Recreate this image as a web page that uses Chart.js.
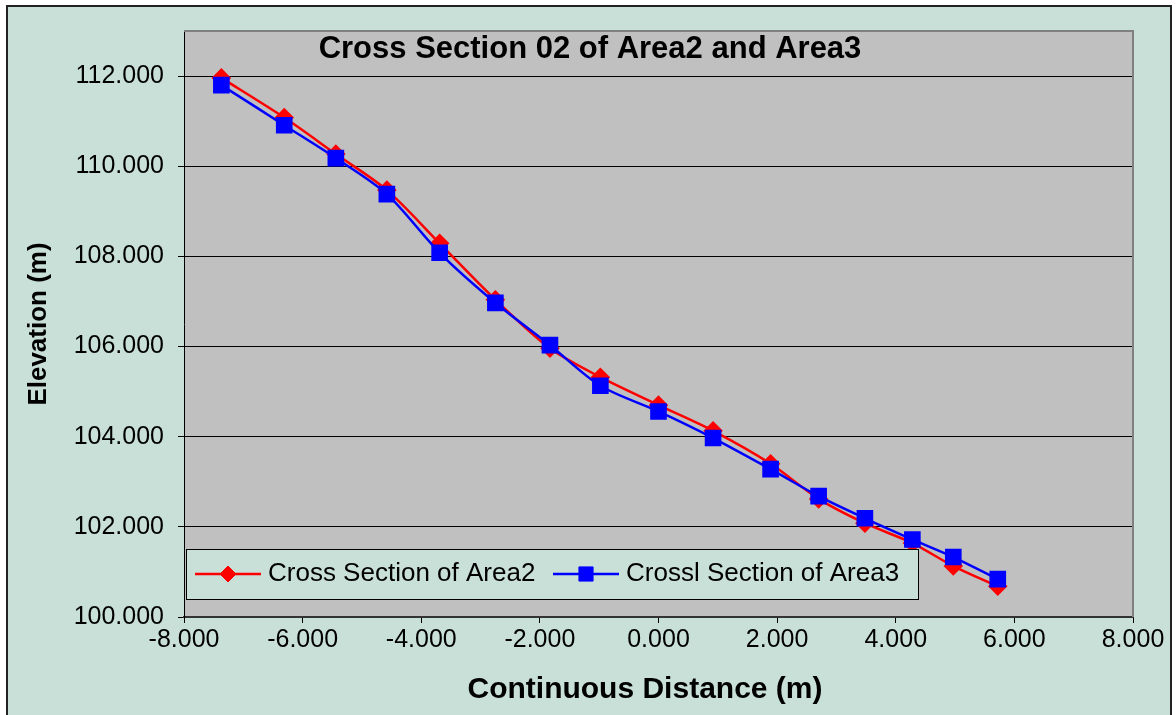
<!DOCTYPE html>
<html>
<head>
<meta charset="utf-8">
<title>Cross Section 02 of Area2 and Area3</title>
<script src="https://cdn.jsdelivr.net/npm/chart.js@4.4.0/dist/chart.umd.min.js"></script>
<style>
  html, body { margin: 0; padding: 0; background: #ffffff; }
  #wrap { width: 1176px; height: 715px; }
</style>
</head>
<body>
<div id="wrap"><canvas id="crossChart" width="1176" height="715"></canvas></div>
<script>
// distancias (m) e cotas
var distance = [-7.37, -6.31, -5.44, -4.58, -3.69, -2.75, -1.83, -0.98, 0.00, 0.92, 1.89, 2.70, 3.48, 4.28, 4.97, 5.72];
var area2Elev = [111.96, 111.08, 110.27, 109.47, 108.29, 107.04, 105.96, 105.32, 104.70, 104.13, 103.40, 102.62, 102.08, 101.64, 101.13, 100.68];
var area3Elev = [111.80, 110.91, 110.18, 109.38, 108.08, 106.97, 106.03, 105.13, 104.56, 103.97, 103.28, 102.68, 102.19, 101.72, 101.33, 100.84];

var seriesLabels = ['Cross Section of Area2', 'Crossl Section of Area3'];
var chartTitle = 'Cross Section 02 of Area2 and Area3';
var xTitle = 'Continuous Distance (m)';
var yTitle = 'Elevation (m)';

var FONT = '"Liberation Sans", Arial, sans-serif';
var OUTER_BG = '#c9e0d9';
var PLOT_BG = '#c0c0c0';

// junta x e y em pontos
function toPoints(xs, ys) {
  return xs.map(function (x, i) { return { x: x, y: ys[i] }; });
}

// fundo, borda externa e area do grafico
var backgroundPlugin = {
  id: 'background',
  beforeDraw: function (chart) {
    var ctx = chart.ctx, a = chart.chartArea;
    ctx.save();
    ctx.fillStyle = '#ffffff';
    ctx.fillRect(0, 0, chart.width, chart.height);
    ctx.fillStyle = OUTER_BG;
    ctx.fillRect(7, 6, 1164, chart.height);
    ctx.strokeStyle = '#222222';
    ctx.lineWidth = 2;
    ctx.strokeRect(7, 6, 1164, chart.height + 10);
    ctx.fillStyle = PLOT_BG;
    ctx.fillRect(a.left, a.top, a.right - a.left, a.bottom - a.top);
    ctx.restore();
  },
  afterDraw: function (chart) {
    var ctx = chart.ctx, a = chart.chartArea;
    ctx.save();
    // borda cinza do plot (topo e direita)
    ctx.strokeStyle = '#808080';
    ctx.lineWidth = 2;
    ctx.beginPath();
    ctx.moveTo(a.left, a.top);
    ctx.lineTo(a.right, a.top);
    ctx.lineTo(a.right, a.bottom);
    ctx.stroke();

    // titulo dentro da area do grafico
    ctx.fillStyle = '#000000';
    ctx.font = 'bold 31px ' + FONT;
    ctx.textAlign = 'center';
    ctx.textBaseline = 'middle';
    ctx.fillText(chartTitle, 590, 49);

    // titulo do eixo x (levemente deslocado como no original)
    ctx.font = 'bold 30px ' + FONT;
    ctx.fillText(xTitle, 645, 690);
    ctx.restore();
  }
};

// legenda desenhada sobre o plot, como no Excel
var legendPlugin = {
  id: 'boxLegend',
  afterDraw: function (chart) {
    var ctx = chart.ctx;
    var box = { x: 186, y: 549, w: 732, h: 50 };
    var cy = box.y + box.h / 2;
    ctx.save();
    ctx.fillStyle = OUTER_BG;
    ctx.fillRect(box.x, box.y, box.w, box.h);
    ctx.strokeStyle = '#000000';
    ctx.lineWidth = 1;
    ctx.strokeRect(box.x + 0.5, box.y + 0.5, box.w, box.h);

    var items = [
      { ds: chart.data.datasets[1], x0: 195, x1: 261, tx: 268 },
      { ds: chart.data.datasets[0], x0: 553, x1: 619, tx: 626 }
    ];
    items.forEach(function (it) {
      ctx.strokeStyle = it.ds.borderColor;
      ctx.lineWidth = 2.5;
      ctx.beginPath();
      ctx.moveTo(it.x0, cy);
      ctx.lineTo(it.x1, cy);
      ctx.stroke();
      ctx.fillStyle = it.ds.pointBackgroundColor;
      ctx.strokeStyle = it.ds.pointBorderColor;
      ctx.lineWidth = 1;
      Chart.helpers.drawPoint(ctx, {
        pointStyle: it.ds.pointStyle,
        radius: it.ds.pointRadius,
        rotation: 0,
        borderWidth: 1
      }, (it.x0 + it.x1) / 2, cy);
      ctx.fillStyle = '#000000';
      ctx.font = '26px ' + FONT;
      ctx.textAlign = 'left';
      ctx.textBaseline = 'middle';
      ctx.fillText(it.ds.label, it.tx, cy);
    });
    ctx.restore();
  }
};

var ctx = document.getElementById('crossChart').getContext('2d');
var crossChart = new Chart(ctx, {
  type: 'line',
  data: {
    datasets: [
      {
        label: seriesLabels[1],
        data: toPoints(distance, area3Elev),
        borderColor: '#0000ff',
        backgroundColor: '#0000ff',
        pointBackgroundColor: '#0000ff',
        pointBorderColor: '#0000ff',
        pointStyle: 'rect',
        pointRadius: 10,
        borderWidth: 2.5,
        tension: 0.3,
        order: 0
      },
      {
        label: seriesLabels[0],
        data: toPoints(distance, area2Elev),
        borderColor: '#ff0000',
        backgroundColor: '#ff0000',
        pointBackgroundColor: '#ff0000',
        pointBorderColor: '#ff0000',
        pointStyle: 'rectRot',
        pointRadius: 8,
        borderWidth: 2.5,
        tension: 0.3,
        order: 1
      }
    ]
  },
  options: {
    responsive: false,
    animation: false,
    layout: { padding: { top: 31, right: 43, left: 0, bottom: 0 } },
    plugins: {
      legend: { display: false },
      tooltip: { enabled: false }
    },
    scales: {
      x: {
        type: 'linear',
        min: -8,
        max: 8,
        afterFit: function (scale) { scale.height = 98; },
        ticks: {
          stepSize: 2,
          color: '#000000',
          padding: 2,
          maxRotation: 0,
          font: { family: FONT, size: 25 },
          callback: function (v) { return v.toFixed(3); }
        },
        grid: { drawOnChartArea: false, drawTicks: true, tickLength: 6, tickColor: '#000000' },
        border: { display: true, color: '#333333', width: 2 },
        title: { display: false }
      },
      y: {
        type: 'linear',
        min: 100,
        max: 113,
        afterFit: function (scale) { scale.width = 184; },
        ticks: {
          stepSize: 2,
          includeBounds: false,
          color: '#000000',
          padding: 14,
          font: { family: FONT, size: 25 },
          callback: function (v) { return v.toFixed(3); }
        },
        grid: { color: '#000000', lineWidth: 1, drawTicks: true, tickLength: 6, tickColor: '#000000' },
        border: { display: true, color: '#000000', width: 1 },
        title: {
          display: true,
          text: yTitle,
          color: '#000000',
          font: { family: FONT, size: 26, weight: 'bold' },
          padding: { top: 23, bottom: 0 }
        }
      }
    }
  },
  plugins: [backgroundPlugin, legendPlugin]
});
</script>
</body>
</html>
